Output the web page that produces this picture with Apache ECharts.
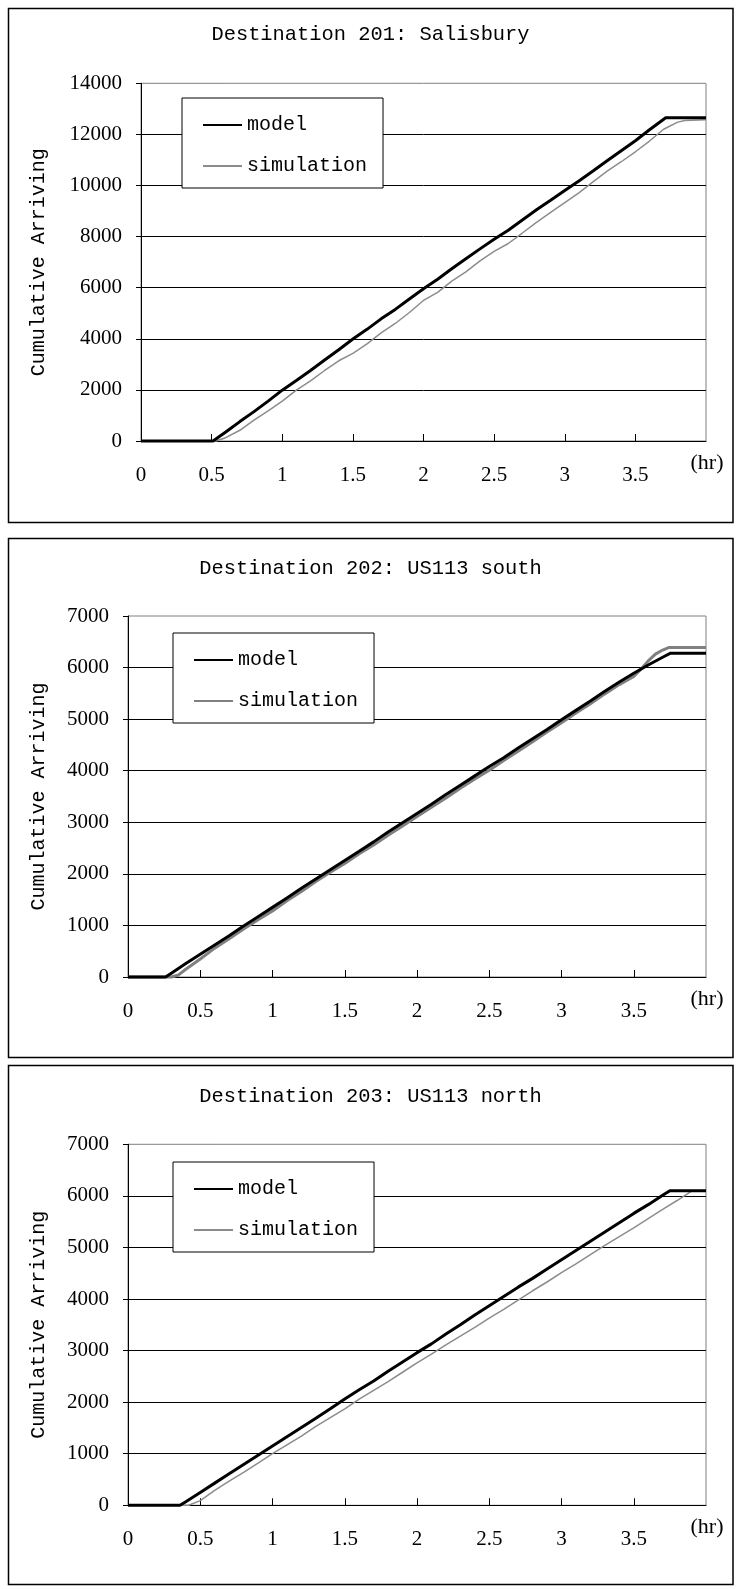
<!DOCTYPE html>
<html>
<head>
<meta charset="utf-8">
<script src="https://cdn.jsdelivr.net/npm/echarts@6/dist/echarts.min.js"></script>
<style>
html,body{margin:0;padding:0;background:#fff;}
#c{width:736px;height:1589px;}
</style>
</head>
<body>
<div id="c"></div>
<script>
// ---------- DATA ----------
const titles = ['Destination 201: Salisbury', 'Destination 202: US113 south', 'Destination 203: US113 north'];
const legendNames = ['model', 'simulation'];
const yAxisTitle = 'Cumulative Arriving';
const xAxisUnit = '(hr)';
const xTicks = [0, 0.5, 1, 1.5, 2, 2.5, 3, 3.5, 4];
const yTicks201 = [0, 2000, 4000, 6000, 8000, 10000, 12000, 14000];
const yTicks202 = [0, 1000, 2000, 3000, 4000, 5000, 6000, 7000];
const yTicks203 = [0, 1000, 2000, 3000, 4000, 5000, 6000, 7000];

// Destination 201
const model201Hr  = [0, 0.51, 0.6, 0.7, 0.8, 0.9, 1.0, 1.1, 1.2, 1.3, 1.4, 1.5, 1.6, 1.7, 1.8, 1.9, 2.0, 2.1, 2.2, 2.3, 2.4, 2.5, 2.6, 2.7, 2.8, 2.9, 3.0, 3.1, 3.2, 3.3, 3.4, 3.5, 3.6, 3.715, 4.0];
const model201Val = [0, 0, 350, 760, 1150, 1560, 1990, 2370, 2760, 3170, 3570, 3990, 4370, 4780, 5150, 5560, 5960, 6330, 6740, 7130, 7520, 7900, 8250, 8650, 9050, 9420, 9800, 10180, 10570, 10970, 11360, 11750, 12180, 12650, 12650];
const sim201Hr  = [0, 0.53, 0.6, 0.7, 0.8, 0.9, 1.0, 1.1, 1.2, 1.3, 1.4, 1.5, 1.6, 1.7, 1.8, 1.9, 2.0, 2.1, 2.2, 2.3, 2.4, 2.5, 2.6, 2.7, 2.8, 2.9, 3.0, 3.1, 3.2, 3.3, 3.4, 3.5, 3.6, 3.7, 3.8, 3.85, 4.0];
const sim201Val = [0, 0, 130, 420, 820, 1180, 1560, 1990, 2350, 2760, 3140, 3430, 3800, 4230, 4600, 5030, 5500, 5820, 6260, 6620, 7050, 7420, 7730, 8140, 8560, 8950, 9330, 9710, 10140, 10560, 10930, 11320, 11740, 12200, 12480, 12540, 12570];

// Destination 202
const model202Hr  = [0, 0.26, 0.3, 0.4, 0.5, 0.6, 0.7, 0.8, 0.9, 1.0, 1.1, 1.2, 1.3, 1.4, 1.5, 1.6, 1.7, 1.8, 1.9, 2.0, 2.1, 2.2, 2.3, 2.4, 2.5, 2.6, 2.7, 2.8, 2.9, 3.0, 3.1, 3.2, 3.3, 3.4, 3.5, 3.6, 3.7, 3.755, 4.0];
const model202Val = [0, 0, 75, 260, 440, 620, 800, 990, 1170, 1350, 1530, 1720, 1900, 2080, 2260, 2440, 2620, 2810, 2990, 3170, 3350, 3540, 3720, 3900, 4080, 4250, 4440, 4620, 4800, 4990, 5170, 5350, 5540, 5720, 5890, 6050, 6200, 6280, 6280];
const sim202Hr  = [0, 0.3, 0.35, 0.4, 0.5, 0.6, 0.7, 0.8, 0.9, 1.0, 1.1, 1.2, 1.3, 1.4, 1.5, 1.6, 1.7, 1.8, 1.9, 2.0, 2.1, 2.2, 2.3, 2.4, 2.5, 2.6, 2.7, 2.8, 2.9, 3.0, 3.1, 3.2, 3.3, 3.4, 3.5, 3.55, 3.6, 3.65, 3.7, 3.745, 4.0];
const sim202Val = [0, 0, 40, 150, 350, 560, 740, 930, 1110, 1280, 1480, 1660, 1850, 2030, 2200, 2390, 2560, 2750, 2930, 3110, 3290, 3470, 3660, 3840, 4010, 4200, 4380, 4560, 4750, 4930, 5120, 5300, 5490, 5670, 5830, 5970, 6130, 6260, 6340, 6390, 6390];

// Destination 203
const model203Hr  = [0, 0.36, 0.4, 0.5, 0.6, 0.7, 0.8, 0.9, 1.0, 1.1, 1.2, 1.3, 1.4, 1.5, 1.6, 1.7, 1.8, 1.9, 2.0, 2.1, 2.2, 2.3, 2.4, 2.5, 2.6, 2.7, 2.8, 2.9, 3.0, 3.1, 3.2, 3.3, 3.4, 3.5, 3.6, 3.7, 3.75, 4.0];
const model203Val = [0, 0, 70, 250, 430, 610, 790, 970, 1150, 1330, 1510, 1690, 1870, 2060, 2240, 2410, 2600, 2780, 2960, 3130, 3320, 3500, 3690, 3870, 4050, 4230, 4400, 4580, 4760, 4940, 5120, 5300, 5480, 5660, 5830, 6010, 6100, 6100];
const sim203Hr  = [0, 0.42, 0.5, 0.6, 0.7, 0.8, 0.9, 1.0, 1.1, 1.2, 1.3, 1.4, 1.5, 1.6, 1.7, 1.8, 1.9, 2.0, 2.1, 2.2, 2.3, 2.4, 2.5, 2.6, 2.7, 2.8, 2.9, 3.0, 3.1, 3.2, 3.3, 3.4, 3.5, 3.6, 3.7, 3.8, 3.9, 3.92, 4.0];
const sim203Val = [0, 0, 90, 290, 470, 640, 820, 1000, 1170, 1340, 1530, 1700, 1870, 2060, 2230, 2400, 2580, 2760, 2930, 3110, 3280, 3450, 3630, 3800, 3980, 4160, 4330, 4510, 4680, 4860, 5040, 5210, 5380, 5560, 5740, 5910, 6090, 6100, 6100];

// ---------- BUILD ----------
const MONO = '"Liberation Mono", "DejaVu Sans Mono", monospace';
const SERIF = '"Liberation Serif", "DejaVu Serif", serif';

function zip(xs, ys) { return xs.map((x, i) => [x, ys[i]]); }

const panels = [
  { title: titles[0], yTicks: yTicks201, model: zip(model201Hr, model201Val), sim: zip(sim201Hr, sim201Val),
    box: [8.5, 8.5, 724.5, 514], titleTop: 25, grid: { left: 141, top: 83.3, height: 357.7 },
    legend: { left: 182, top: 98 }, nameGap: 92, simWidth: 1.5, simColor: '#8c8c8c' },
  { title: titles[1], yTicks: yTicks202, model: zip(model202Hr, model202Val), sim: zip(sim202Hr, sim202Val),
    box: [8.5, 538.5, 724.5, 519], titleTop: 559, grid: { left: 128, top: 616, height: 361 },
    legend: { left: 173, top: 633 }, nameGap: 79, simWidth: 3, simColor: '#808080' },
  { title: titles[2], yTicks: yTicks203, model: zip(model203Hr, model203Val), sim: zip(sim203Hr, sim203Val),
    box: [8.5, 1065.5, 724.5, 519], titleTop: 1087, grid: { left: 128, top: 1144.3, height: 361 },
    legend: { left: 173, top: 1162 }, nameGap: 79, simWidth: 1.5, simColor: '#8c8c8c' }
];

const option = {
  animation: false,
  backgroundColor: '#fff',
  title: [], grid: [], xAxis: [], yAxis: [], legend: [], series: [], graphic: []
};

panels.forEach((p, i) => {
  const mName = legendNames[0] + '|' + i;
  const sName = legendNames[1] + '|' + i;
  option.graphic.push({
    type: 'rect', silent: true, z: 100,
    shape: { x: p.box[0], y: p.box[1], width: p.box[2], height: p.box[3] },
    style: { fill: 'none', stroke: '#000', lineWidth: 1.5 }
  });
  option.title.push({
    text: p.title, left: 370.5, top: p.titleTop, textAlign: 'center', padding: 0,
    textStyle: { fontFamily: MONO, fontSize: 20.4, fontWeight: 'normal', color: '#000' }
  });
  option.grid.push({
    left: p.grid.left, top: p.grid.top, width: 706 - p.grid.left, height: p.grid.height,
    show: true, borderColor: '#808080', borderWidth: 1, backgroundColor: 'transparent',
    containLabel: false, outerBoundsMode: 'none'
  });
  option.xAxis.push({
    gridIndex: i, type: 'value', min: xTicks[0], max: xTicks[xTicks.length - 1], interval: xTicks[1] - xTicks[0],
    name: xAxisUnit, nameLocation: 'end', nameGap: 1,
    nameTextStyle: { fontFamily: SERIF, fontSize: 22, color: '#000', align: 'center', verticalAlign: 'top', padding: [11, 0, 0, 0] },
    axisLine: { show: true, onZero: false, lineStyle: { color: '#000', width: 1 } },
    axisTick: { show: true, inside: true, length: 7, lineStyle: { color: '#000', width: 1 } },
    axisLabel: { margin: 24, fontFamily: SERIF, fontSize: 21, color: '#000', showMaxLabel: false, showMinLabel: true,
                 formatter: v => String(v) },
    splitLine: { show: false }
  });
  const yt = p.yTicks;
  option.yAxis.push({
    gridIndex: i, type: 'value', min: yt[0], max: yt[yt.length - 1], interval: yt[1] - yt[0],
    name: yAxisTitle, nameLocation: 'middle', nameGap: p.nameGap, nameRotate: 90,
    nameTextStyle: { fontFamily: MONO, fontSize: 20, color: '#000' },
    axisLine: { show: true, lineStyle: { color: '#000', width: 1 } },
    axisTick: { show: true, inside: false, length: 5, lineStyle: { color: '#000', width: 1 } },
    axisLabel: { margin: 19, fontFamily: SERIF, fontSize: 21, color: '#000', formatter: v => String(v) },
    splitLine: { show: true, showMaxLine: false, lineStyle: { color: '#000', width: 1 } }
  });
  option.legend.push({
    orient: 'vertical', left: p.legend.left, top: p.legend.top,
    data: [mName, sName], formatter: n => n.split('|')[0],
    selectedMode: false,
    itemWidth: 39, itemHeight: 14, itemGap: 21,
    padding: [17, 16, 12, 20],
    itemStyle: { color: 'rgba(0,0,0,0)', borderColor: 'rgba(0,0,0,0)', borderWidth: 0, opacity: 0 },
    borderColor: '#000', borderWidth: 1, backgroundColor: '#fff', borderRadius: 0,
    textStyle: { fontFamily: MONO, fontSize: 20, color: '#000', lineHeight: 20 }
  });
  option.series.push({
    type: 'line', name: mName, xAxisIndex: i, yAxisIndex: i, data: p.model,
    symbol: 'none', showSymbol: false, clip: false, z: 3,
    lineStyle: { color: '#000', width: 3 }, itemStyle: { color: '#000' },
    emphasis: { disabled: true }
  });
  option.series.push({
    type: 'line', name: sName, xAxisIndex: i, yAxisIndex: i, data: p.sim,
    symbol: 'none', showSymbol: false, clip: false, z: 2,
    lineStyle: { color: p.simColor, width: p.simWidth }, itemStyle: { color: p.simColor },
    emphasis: { disabled: true }
  });
});

const chart = echarts.init(document.getElementById('c'), null, { renderer: 'canvas', width: 736, height: 1589 });
chart.setOption(option);
</script>
</body>
</html>
